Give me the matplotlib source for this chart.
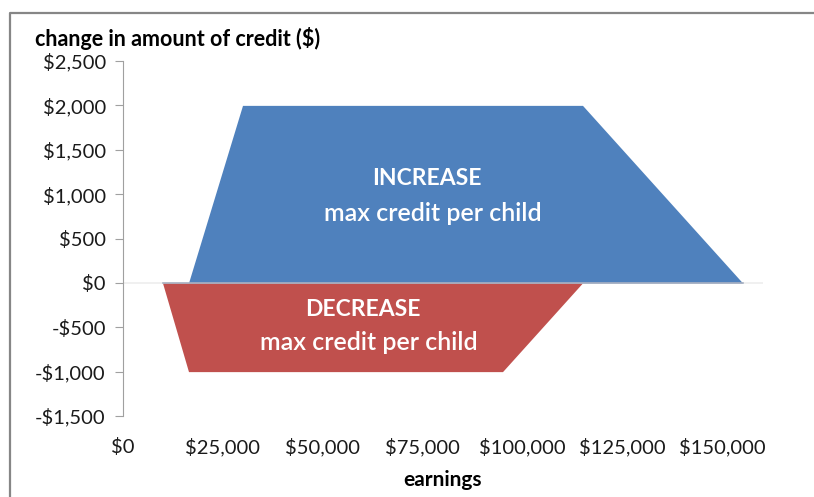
import matplotlib.pyplot as plt
from matplotlib.lines import Line2D
from matplotlib.ticker import FuncFormatter

# earnings breakpoints and change in credit ($)
increase_x = [16500, 30000, 115000, 155000]
increase_y = [0, 2000, 2000, 0]
decrease_x = [10000, 16500, 95000, 115000]
decrease_y = [0, -1000, -1000, 0]

x_ticks = [0, 25000, 50000, 75000, 100000, 125000, 150000]
y_ticks = [-1500, -1000, -500, 0, 500, 1000, 1500, 2000, 2500]

plt.rcParams["font.family"] = ["Lato", "DejaVu Sans"]

fig = plt.figure(figsize=(8.14, 4.97), dpi=100)
ax = fig.add_axes([122.5 / 814, 1 - 416 / 497, 640 / 814, 355 / 497])

# frame round the chart (left and top edges only show)
fx, fy = 10 / 814, 1 - 13 / 497
fig.add_artist(Line2D([fx, fx, 1.05], [-0.05, fy, fy], transform=fig.transFigure,
                      color="#868686", linewidth=1.6, clip_on=False))

ax.axhline(0, color="#EEEEEE", linewidth=1.2, zorder=1)
ax.fill_between(increase_x, increase_y, 0, color="#4F81BD", linewidth=0, zorder=2)
ax.fill_between(decrease_x, decrease_y, 0, color="#C0504D", linewidth=0, zorder=2)
ax.plot([decrease_x[0], increase_x[-1]], [0, 0], color="#A9B1C2", linewidth=1.2, zorder=3)

ax.set_xlim(0, 160000)
ax.set_ylim(-1500, 2500)
ax.set_xticks(x_ticks)
ax.set_yticks(y_ticks)


def money(v, pos):
    return "-${:,.0f}".format(-v) if v < 0 else "${:,.0f}".format(v)


ax.xaxis.set_major_formatter(FuncFormatter(money))
ax.yaxis.set_major_formatter(FuncFormatter(money))

for side in ["top", "right", "bottom"]:
    ax.spines[side].set_visible(False)
ax.spines["left"].set_color("#A0A0A0")
ax.tick_params(axis="y", direction="out", length=6, color="#A0A0A0", pad=6, labelsize=14.5,
               labelcolor="#1A1A1A")
ax.tick_params(axis="x", length=0, pad=16, labelsize=14.5, labelcolor="#1A1A1A")

ax.text(76000, 1180, "INCREASE", color="white", fontsize=16.5, fontweight="bold", ha="center", va="center")
ax.text(77500, 780, "max credit per child", color="white", fontsize=18, fontweight=600,
        ha="center", va="center")
ax.text(60000, -300, "DECREASE", color="white", fontsize=16.5, fontweight="bold", ha="center", va="center")
ax.text(61500, -670, "max credit per child", color="white", fontsize=18, fontweight=600,
        ha="center", va="center")

fig.text(35 / 814, 1 - 38 / 497, "change in amount of credit ($)", fontsize=15.5, fontweight="bold",
         ha="left", va="center")
fig.text(442 / 814, 1 - 480 / 497, "earnings", fontsize=15, fontweight="bold", ha="center", va="center")

fig.savefig("out.png", dpi=100)
